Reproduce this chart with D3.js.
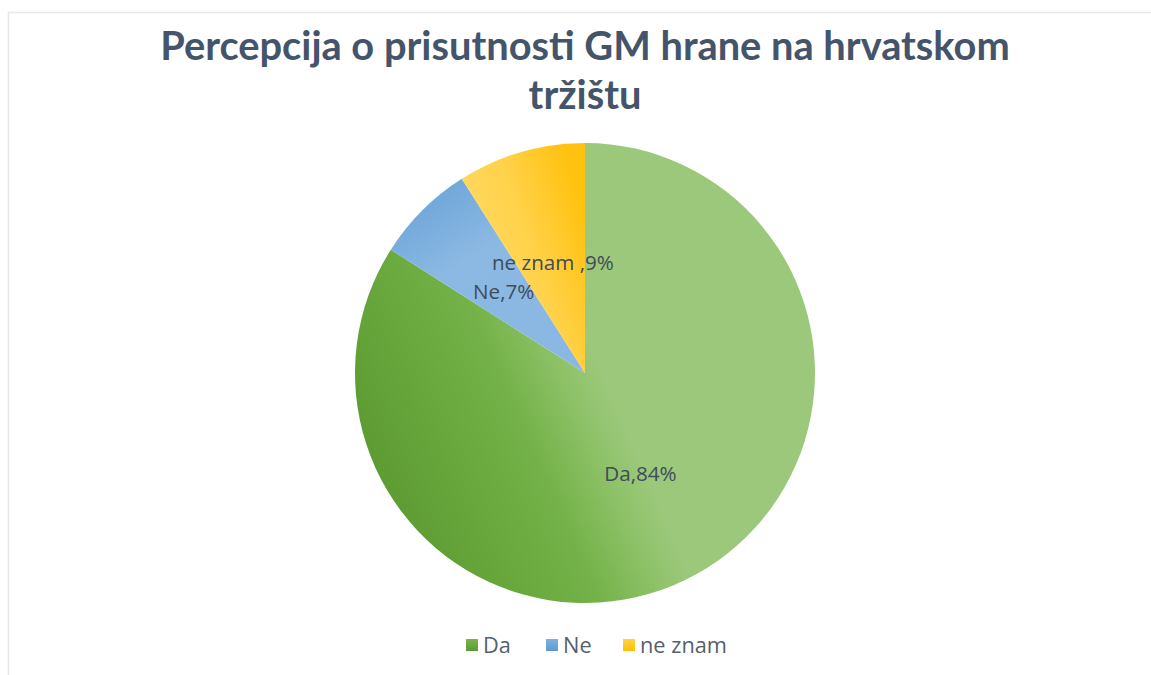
<!DOCTYPE html>
<html><head><meta charset="utf-8">
<script src="https://cdn.jsdelivr.net/npm/d3@7"></script>
<style>html,body{margin:0;padding:0;background:#fff;}svg{display:block;}</style>
</head><body>
<svg id="chart" width="1151" height="675"></svg>
<script>
const categories = ["Da", "Ne", "ne znam"];
const labelNames = ["Da", "Ne", "ne znam "];
const values = [84, 7, 9];
const titleLines = ["Percepcija o prisutnosti GM hrane na hrvatskom", "tržištu"];

const W = 1151, H = 675;
const svg = d3.select("#chart");
const font = "Lato, 'Open Sans', sans-serif";
const font2 = "'Open Sans', 'Noto Sans', sans-serif";
const textColor = "#44546a";

function fitSize(sel, target, base) {
  const w = sel.node().getComputedTextLength();
  return base * target / w;
}

// frame
svg.append("rect").attr("x", 8.5).attr("y", 12.5).attr("width", 1400).attr("height", 1000)
  .attr("fill", "none").attr("stroke", "#e6e8ee").attr("stroke-width", 1.5);

// title
const cx = 585, cy = 373, R = 230;
const t1 = svg.append("text").attr("x", cx).attr("y", 60).attr("text-anchor", "middle")
  .attr("font-family", font).attr("font-weight", "bold").attr("font-size", 36)
  .attr("fill", textColor).text(titleLines[0]);
const fs = fitSize(t1, 850, 36);
t1.attr("font-size", fs);
svg.append("text").attr("x", cx).attr("y", 109).attr("text-anchor", "middle")
  .attr("font-family", font).attr("font-weight", "bold").attr("font-size", fs)
  .attr("fill", textColor).text(titleLines[1]);

// gradients (coordinates relative to pie centre)
const defs = svg.append("defs");
function grad(id, x1, y1, x2, y2, stops, units) {
  const g = defs.append("linearGradient").attr("id", id).attr("gradientUnits", units || "userSpaceOnUse")
    .attr("x1", x1).attr("y1", y1).attr("x2", x2).attr("y2", y2);
  stops.forEach(s => g.append("stop").attr("offset", s[0]).attr("stop-color", s[1]));
}
const dx = Math.cos(-23.5 * Math.PI / 180), dy = Math.sin(-23.5 * Math.PI / 180);
grad("gDa", -R * dx, -R * dy, 15 * dx, 15 * dy,
  [[0, "#5e9c33"], [0.45, "#6cac40"], [0.62, "#74b249"], [0.85, "#8dc167"], [1, "#9bc87a"]]);
grad("gNe", -150, -200, -60, -60,
  [[0, "#6aa3d8"], [0.55, "#8cb9e3"], [1, "#8ab8e2"]]);
grad("gNz", -120, -120, 0, -160,
  [[0, "#ffda66"], [0.5, "#ffd24a"], [1, "#ffc210"]]);
const fills = ["url(#gDa)", "url(#gNe)", "url(#gNz)"];

const pie = d3.pie().sort(null).value(d => d.v);
const arcs = pie(values.map((v, i) => ({ v, i })));
const arc = d3.arc().innerRadius(0).outerRadius(R);
const g = svg.append("g").attr("transform", `translate(${cx},${cy})`);
g.selectAll("path").data(arcs).join("path").attr("d", arc)
  .attr("fill", d => fills[d.data.i]);

const lbls = g.selectAll("text.lbl").data(arcs).join("text").attr("class", "lbl")
  .attr("transform", d => { const c = arc.centroid(d); return `translate(${c[0]},${c[1]})`; })
  .attr("text-anchor", "middle").attr("dy", "0.35em")
  .attr("font-family", font2).attr("font-size", 16).attr("fill", "#404b5c")
  .text(d => labelNames[d.data.i] + "," + d.data.v + "%");
const lfs = fitSize(lbls.filter(d => d.data.i === 2), 122, 16);
lbls.attr("font-size", lfs);

// legend
const legColors = [["#5c9a30", "#7ab551"], ["#5d9ad4", "#7fb0e0"], ["#ffc000", "#ffd24a"]];
legColors.forEach((c, i) => grad("lg" + i, 0, 0, 0, 1, [[0, c[1]], [1, c[0]]], "objectBoundingBox"));
const legX = d3.scaleOrdinal().domain(categories).range([466, 546, 623]);
const leg = svg.append("g");
let legFs = 16;
categories.forEach((c, i) => {
  leg.append("rect").attr("x", legX(c)).attr("y", 639).attr("width", 12).attr("height", 12)
    .attr("fill", `url(#lg${i})`);
  const t = leg.append("text").attr("x", legX(c) + 17).attr("y", 645).attr("dy", "0.35em")
    .attr("font-family", font2).attr("font-size", 16).attr("fill", "#555f6e").text(c);
  if (i === 2) legFs = fitSize(t, 87, 16);
});
leg.selectAll("text").attr("font-size", legFs);
</script>
</body></html>
